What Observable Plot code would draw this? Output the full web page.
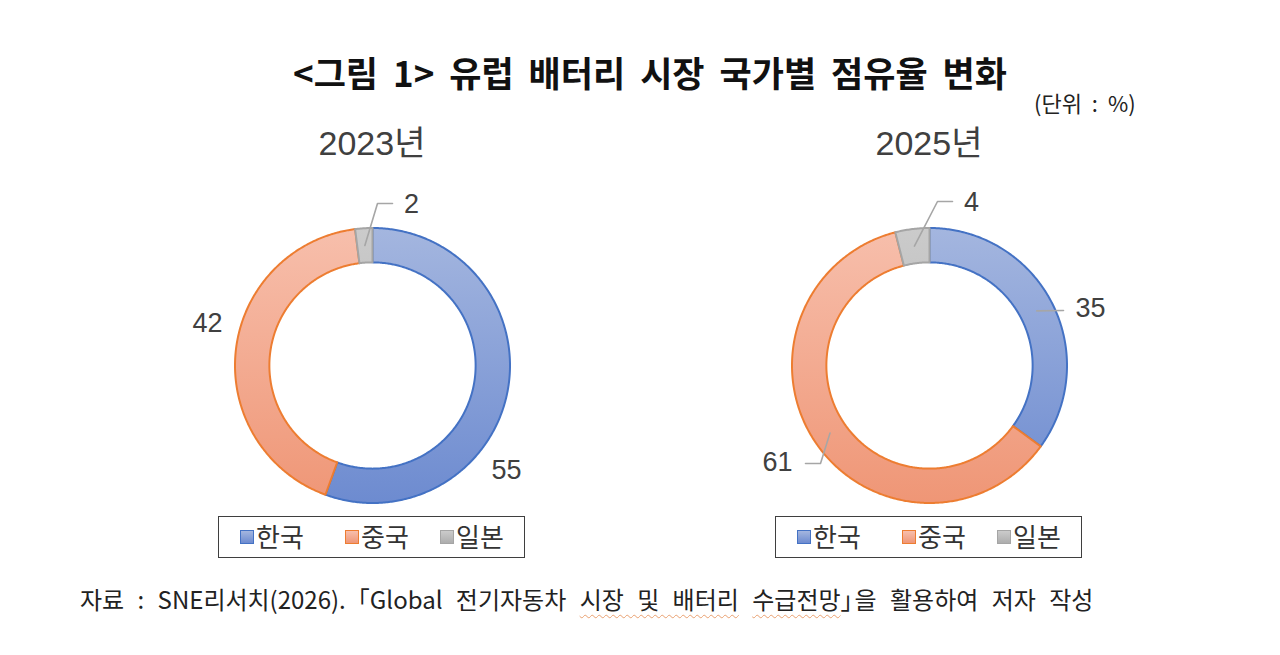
<!DOCTYPE html>
<html><head><meta charset="utf-8">
<script src="https://cdn.jsdelivr.net/npm/d3@7"></script>
<script src="https://cdn.jsdelivr.net/npm/@observablehq/plot@0.6"></script>
<style>
body{margin:0;background:#fff;}
#page{position:relative;width:1280px;height:655px;overflow:hidden;font-family:"Noto Sans CJK KR","Noto Sans",sans-serif;color:#222;}
#title{position:absolute;left:0;width:1300px;top:50px;text-align:center;font-weight:700;font-size:35px;line-height:44px;color:#111;word-spacing:7px;}
#unit{position:absolute;left:1034px;top:87px;font-size:22px;line-height:30px;color:#222;word-spacing:5px;}
.sub{position:absolute;top:122px;width:300px;text-align:center;font-family:"Liberation Sans","Noto Sans CJK KR",sans-serif;font-size:34px;line-height:42px;color:#404040;}
.chart{position:absolute;top:175px;}
.legend{position:absolute;top:516px;width:307px;height:42px;border:1.5px solid #3f3f3f;box-sizing:border-box;}
.legend .sw{position:absolute;top:13px;width:14px;height:14px;box-sizing:border-box;border:1.5px solid;}
.legend .lb{position:absolute;top:1px;font-size:26px;line-height:36px;color:#333;}
#caption{position:absolute;left:80px;top:582px;font-size:24px;line-height:34px;color:#222;white-space:nowrap;word-spacing:8px;}
.wavy{text-decoration:underline wavy #e9a070;text-decoration-thickness:1px;text-underline-offset:5px;}
.br{letter-spacing:-10px;}
</style></head><body>
<div id="page">
  <div id="title">&lt;그림 1&gt; 유럽 배터리 시장 국가별 점유율 변화</div>
  <div id="unit"></div>
  <div id="caption"></div>
</div>
<script>
// ---- data ----
const countries = ["한국", "중국", "일본"];
const years = ["2023년", "2025년"];
const share2023 = [55, 42, 2];
const share2025 = [35, 61, 4];
const captionText = "자료 : SNE리서치(2026).「Global 전기자동차 시장 및 배터리 수급전망」을 활용하여 저자 작성";
const unitText = "(단위 : %)";

// ---- styling / layout ----
const fills = [["#a4b6df", "#6d8bd0"], ["#f7bfac", "#ef9676"], ["#cbcbcb", "#adadad"]];
const strokes = ["#4472c4", "#ed7d31", "#a5a5a5"];
const R = 137.5;           // outer radius, px
const innerRatio = 0.75;
const W = 440, H = 380;
const centers = [[372, 365], [929, 365]];
// label layout (px offsets from donut centre, y down): text position and leader path after the slice centroid
const labelLayout = [
  [{t: [134, 105], path: []}, {t: [-165, -42], path: []}, {t: [39, -161], path: [[5, -162], [20, -162]]}],
  [{t: [161, -57], path: [[134, -55]]}, {t: [-152, 97], path: [[-109, 98], [-124, 98]]}, {t: [42, -163], path: [[8, -164], [23, -164]]}]
];

const page = document.getElementById("page");
const series = [share2023, share2025];

series.forEach((vals, ci) => {
  const data = countries.map((c, i) => ({country: c, value: vals[i], i}));
  const arcs = d3.pie().sort(null).value(d => d.value)(data);
  // ring polygons in unit coordinates
  const poly = [];
  arcs.forEach(a => {
    const n = Math.max(4, Math.ceil((a.endAngle - a.startAngle) / 0.01));
    for (let k = 0; k <= n; k++) {
      const t = a.startAngle + (a.endAngle - a.startAngle) * k / n;
      poly.push({key: a.data.country, i: a.data.i, x: Math.sin(t), y: -Math.cos(t)});
    }
    for (let k = n; k >= 0; k--) {
      const t = a.startAngle + (a.endAngle - a.startAngle) * k / n;
      poly.push({key: a.data.country, i: a.data.i, x: innerRatio * Math.sin(t), y: -innerRatio * Math.cos(t)});
    }
  });
  const midR = (1 + innerRatio) / 2;
  const leaders = [];
  const labels = [];
  arcs.forEach((a, i) => {
    const L = labelLayout[ci][i];
    const m = (a.startAngle + a.endAngle) / 2;
    labels.push({x: L.t[0] / R, y: L.t[1] / R, text: String(a.data.value)});
    if (L.path.length) {
      leaders.push({k: i, x: midR * Math.sin(m), y: -midR * Math.cos(m)});
      L.path.forEach(p => leaders.push({k: i, x: p[0] / R, y: p[1] / R}));
    }
  });
  const marks = countries.map((c, i) => Plot.line(poly.filter(d => d.i === i), {
    x: "x", y: "y", curve: "linear-closed",
    fill: `url(#g${ci}_${i})`, stroke: strokes[i], strokeWidth: 2, strokeLinejoin: "round"
  }));
  marks.push(Plot.line(leaders, {x: "x", y: "y", z: "k", stroke: "#a6a6a6", strokeWidth: 1.6}));
  marks.push(Plot.text(labels, {x: "x", y: "y", text: "text", fontSize: 27, fill: "#404040",
    fontFamily: "'Liberation Sans', Arial, sans-serif"}));
  const svg = Plot.plot({
    width: W, height: H, margin: 0,
    x: {domain: [-W / 2 / R, W / 2 / R], axis: null},
    y: {domain: [-H / 2 / R, H / 2 / R], axis: null, reverse: true},
    style: {background: "transparent", overflow: "visible"},
    marks
  });
  const defs = d3.select(svg).insert("defs", ":first-child");
  fills.forEach((f, i) => {
    const g = defs.append("linearGradient").attr("id", `g${ci}_${i}`)
      .attr("gradientUnits", "userSpaceOnUse")
      .attr("x1", 0).attr("x2", 0).attr("y1", H / 2 - R).attr("y2", H / 2 + R);
    g.append("stop").attr("offset", "0%").attr("stop-color", f[0]);
    g.append("stop").attr("offset", "100%").attr("stop-color", f[1]);
  });
  const wrap = document.createElement("div");
  wrap.className = "chart";
  wrap.style.left = (centers[ci][0] - W / 2) + "px";
  wrap.style.top = (centers[ci][1] - H / 2) + "px";
  wrap.appendChild(svg);
  page.appendChild(wrap);

  const sub = document.createElement("div");
  sub.className = "sub";
  sub.style.left = (centers[ci][0] - 150) + "px";
  sub.textContent = years[ci];
  page.appendChild(sub);

  // legend
  const lg = document.createElement("div");
  lg.className = "legend";
  lg.style.left = (centers[ci][0] - 154) + "px";
  const offs = [21, 126, 221];
  countries.forEach((c, i) => {
    const sw = document.createElement("div");
    sw.className = "sw";
    sw.style.left = offs[i] + "px";
    sw.style.borderColor = strokes[i];
    sw.style.background = `linear-gradient(${fills[i][0]}, ${fills[i][1]})`;
    const lb = document.createElement("div");
    lb.className = "lb";
    lb.style.left = (offs[i] + 16) + "px";
    lb.textContent = c;
    lg.appendChild(sw); lg.appendChild(lb);
  });
  page.appendChild(lg);
});

document.getElementById("unit").textContent = unitText;
const cap = document.getElementById("caption");
const wavyParts = ["시장 및 배터리", "수급전망"];
let html = captionText;
wavyParts.forEach(w => { html = html.replace(w, `<span class="wavy">${w}</span>`); });
html = html.replace("」", `<span class="br">」</span>`);
cap.innerHTML = html;
</script>
</body></html>
